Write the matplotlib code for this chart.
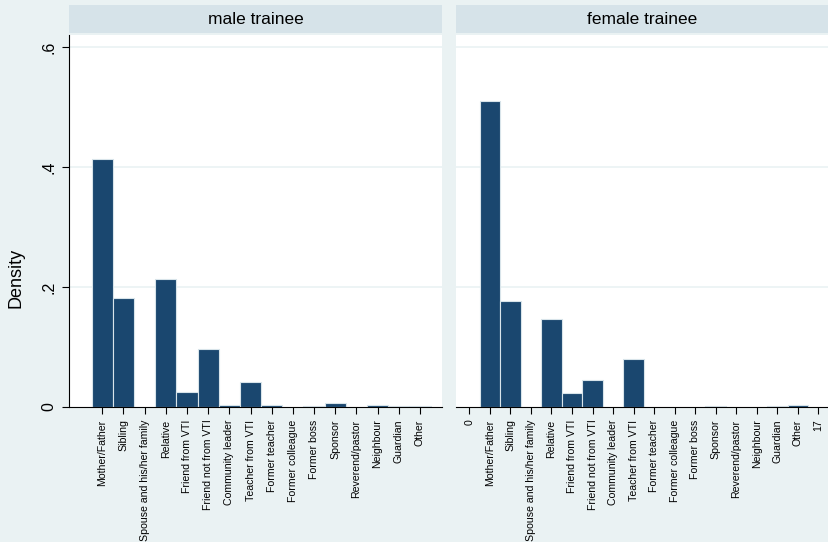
import matplotlib.pyplot as plt

plt.rcParams['font.family'] = ['Liberation Sans', 'DejaVu Sans']

categories = ["Mother/Father", "Sibling", "Spouse and his/her family", "Relative",
              "Friend from VTI", "Friend not from VTI", "Community leader",
              "Teacher from VTI", "Former teacher", "Former colleague", "Former boss",
              "Sponsor", "Reverend/pastor", "Neighbour", "Guardian", "Other"]
codes = list(range(1, 17))
male = [0.4135, 0.182, 0.0, 0.213, 0.0244, 0.0959, 0.003, 0.0416, 0.003, 0.0,
        0.0015, 0.0066, 0.0, 0.003, 0.001, 0.001]
female = [0.510, 0.177, 0.0, 0.146, 0.0228, 0.0454, 0.0, 0.080, 0.0, 0.0,
          0.0, 0.001, 0.0, 0.0, 0.001, 0.003]
panel_titles = ["male trainee", "female trainee"]
yticks = [0, 0.2, 0.4, 0.6]
ytick_labels = ["0", ".2", ".4", ".6"]

bg = "#eaf2f3"
head = "#d6e3e9"
navy = "#1a476f"

W, H = 829, 542
fig = plt.figure(figsize=(W / 100, H / 100), dpi=100, facecolor=bg)


def box(x0, y0, x1, y1):
    return [x0 / W, 1 - y1 / H, (x1 - x0) / W, (y1 - y0) / H]


panels = [
    (69, 442, (-0.57, 17.04), male, codes, categories),
    (456, 829, (-0.65, 17.52), female, [0] + codes + [17], ["0"] + categories + ["17"]),
]

for i, (x0, x1, xlim, vals, tpos, tlabels) in enumerate(panels):
    ax = fig.add_axes(box(x0, 35, x1, 407))
    ax.set_facecolor("white")
    # skip empty categories, Stata draws nothing there
    xs = [c for c, v in zip(codes, vals) if v > 0]
    hs = [v for v in vals if v > 0]
    ax.bar(xs, hs, width=1.0, color=navy, edgecolor="#d8e4ea", linewidth=0.8, zorder=3)
    ax.set_xlim(*xlim)
    ax.set_ylim(0, 0.62)
    for y in yticks[1:]:
        ax.axhline(y, color=bg, lw=1.2, zorder=1)
    for s in ["top", "right"]:
        ax.spines[s].set_visible(False)
    ax.spines["bottom"].set_color("black")
    ax.spines["bottom"].set_linewidth(0.8)
    ax.spines["bottom"].set_zorder(4)
    ax.set_xticks(tpos)
    ax.set_xticklabels(tlabels, rotation=90, fontsize=7.6)
    ax.tick_params(axis="x", length=5, width=0.8, pad=4)
    if i == 0:
        ax.spines["left"].set_color("black")
        ax.spines["left"].set_linewidth(0.8)
        ax.set_yticks(yticks)
        ax.set_yticklabels(ytick_labels, rotation=90, va="center", fontsize=11.5)
        ax.tick_params(axis="y", length=5, width=0.8, pad=4)
    else:
        ax.spines["left"].set_visible(False)
        ax.set_yticks([])

    hx = fig.add_axes(box(x0, 5, x1, 33))
    hx.set_facecolor(head)
    hx.set_xticks([])
    hx.set_yticks([])
    for s in hx.spines.values():
        s.set_visible(False)
    hx.text(0.5, 0.5, panel_titles[i], ha="center", va="center", fontsize=12.5,
            transform=hx.transAxes)

fig.text(16 / W, 1 - 278 / H, "Density", rotation=90, ha="center", va="center", fontsize=13)

fig.savefig("out.png", dpi=100, facecolor=bg)
